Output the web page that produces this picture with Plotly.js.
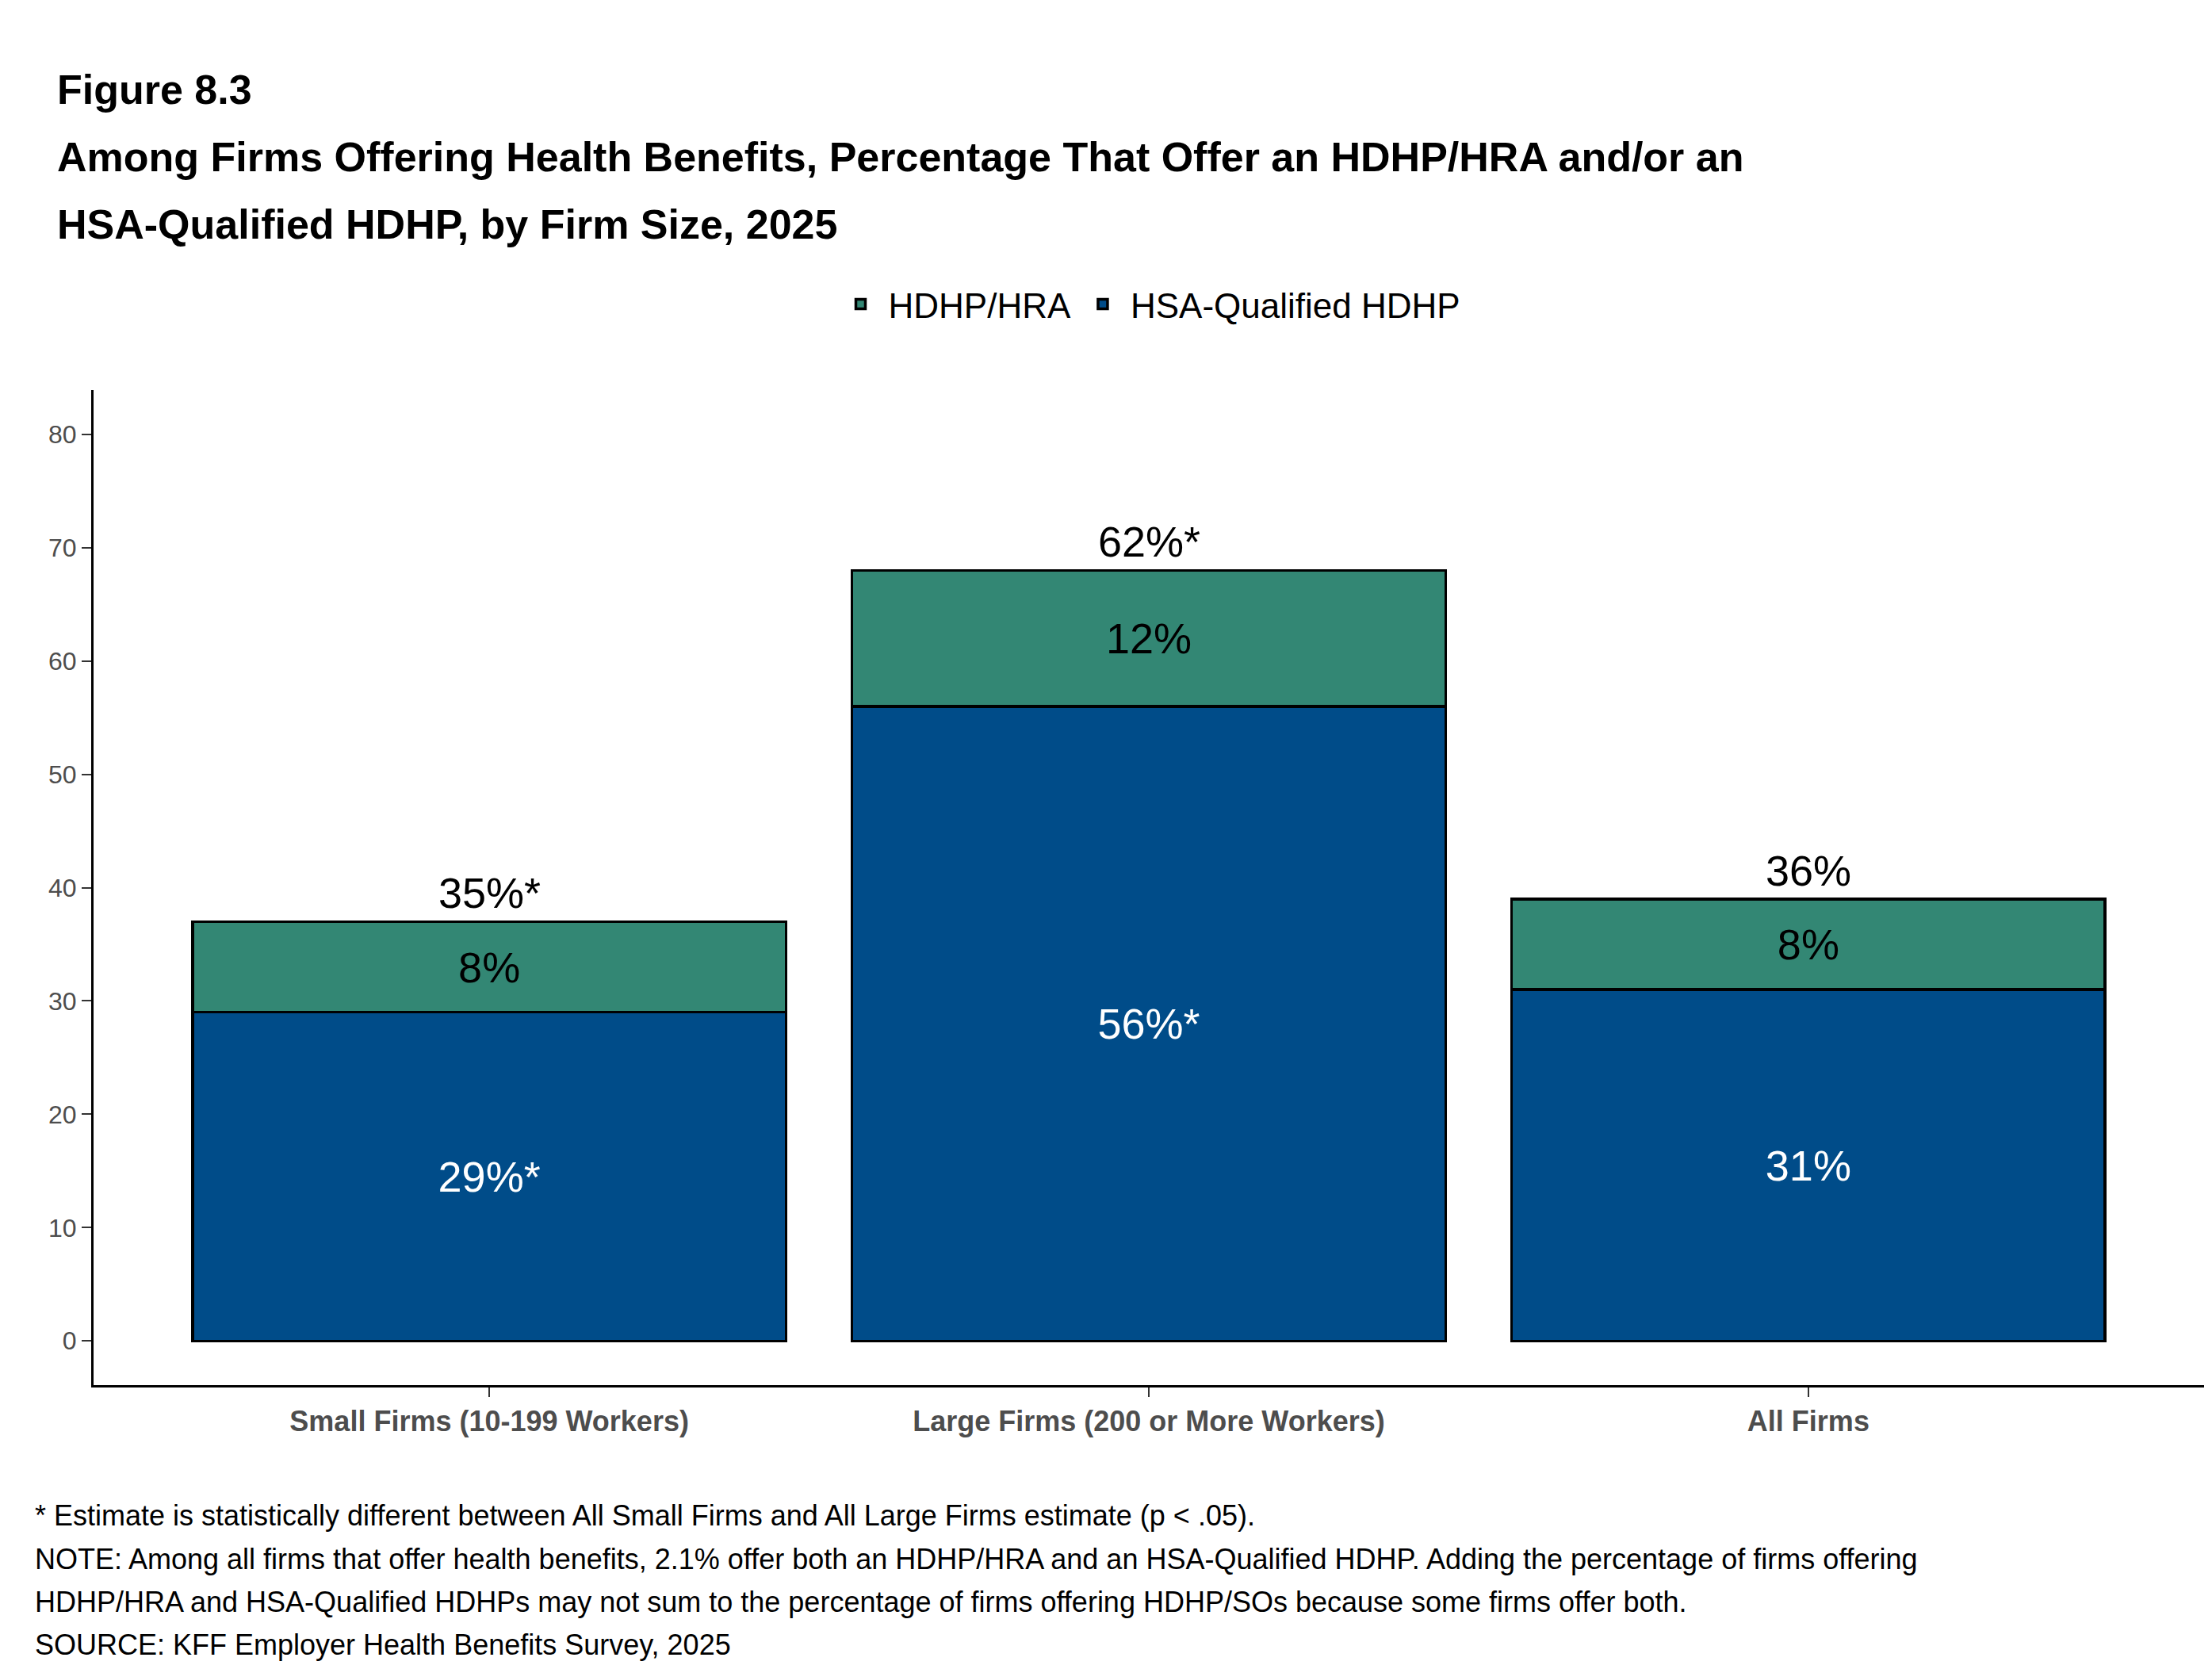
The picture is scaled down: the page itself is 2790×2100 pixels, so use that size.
<!DOCTYPE html>
<html>
<head>
<meta charset="utf-8">
<script src="https://cdn.plot.ly/plotly-3.0.1.min.js"></script>
<style>body{margin:0;background:#fff}#chart{width:2790px;height:2100px}</style>
</head>
<body>
<div id="chart"></div>
<script>
var categories = ['Small Firms (10-199 Workers)', 'Large Firms (200 or More Workers)', 'All Firms'];
var hsaValues = [29, 56, 31];
var hsaLabels = ['29%*', '56%*', '31%'];
var hraValues = [8, 12, 8];
var hraLabels = ['8%', '12%', '8%'];
var totalLabels = ['35%*', '62%*', '36%'];

var W = 2790, H = 2100;
var mL = 118, mR = 10, mT = 492, mB = 353;
function py(pxY) { return (H - mB - pxY) / (H - mT - mB); }
function px(pxX) { return (pxX - mL) / (W - mL - mR); }

var font = 'Liberation Sans, Arial, sans-serif';

var traces = [
  {
    type: 'bar', name: 'HSA-Qualified HDHP', x: categories, y: hsaValues,
    text: hsaLabels, textposition: 'inside', insidetextanchor: 'middle',
    textfont: {family: font, size: 54, color: '#ffffff'},
    marker: {color: '#004c89', line: {color: '#000', width: 3.5}},
    width: 0.9, hoverinfo: 'none'
  },
  {
    type: 'bar', name: 'HDHP/HRA', x: categories, y: hraValues,
    text: hraLabels, textposition: 'inside', insidetextanchor: 'middle',
    textfont: {family: font, size: 54, color: '#000000'},
    marker: {color: '#338774', line: {color: '#000', width: 3.5}},
    width: 0.9, hoverinfo: 'none'
  }
];

var annotations = [];
for (var i = 0; i < categories.length; i++) {
  annotations.push({
    x: categories[i], y: hsaValues[i] + hraValues[i], xref: 'x', yref: 'y',
    text: totalLabels[i], showarrow: false, yanchor: 'bottom', yshift: 4,
    font: {family: font, size: 54, color: '#000'}
  });
}
var titleLines = [
  ['Figure 8.3', 113],
  ['Among Firms Offering Health Benefits, Percentage That Offer an HDHP/HRA and/or an', 198],
  ['HSA-Qualified HDHP, by Firm Size, 2025', 283]
];
titleLines.forEach(function (t) {
  annotations.push({
    x: px(70), y: py(t[1]), xref: 'paper', yref: 'paper', xanchor: 'left', yanchor: 'middle',
    text: '<b>' + t[0] + '</b>', showarrow: false,
    font: {family: font, size: 52, color: '#000'}
  });
});
var notes = [
  ['* Estimate is statistically different between All Small Firms and All Large Firms estimate (p < .05).', 1911],
  ['NOTE: Among all firms that offer health benefits, 2.1% offer both an HDHP/HRA and an HSA-Qualified HDHP. Adding the percentage of firms offering', 1966],
  ['HDHP/HRA and HSA-Qualified HDHPs may not sum to the percentage of firms offering HDHP/SOs because some firms offer both.', 2020],
  ['SOURCE: KFF Employer Health Benefits Survey, 2025', 2074]
];
notes.forEach(function (t) {
  annotations.push({
    x: px(42), y: py(t[1]), xref: 'paper', yref: 'paper', xanchor: 'left', yanchor: 'middle',
    text: t[0], showarrow: false,
    font: {family: font, size: 36, color: '#000'}
  });
});

var layout = {
  width: W, height: H,
  margin: {l: mL, r: mR, t: mT, b: mB},
  paper_bgcolor: '#fff', plot_bgcolor: '#fff',
  barmode: 'stack',
  showlegend: true,
  legend: {
    orientation: 'h', x: 0.5, xanchor: 'center', y: py(384), yanchor: 'middle',
    font: {family: font, size: 44, color: '#000'}, traceorder: 'reversed',
    itemwidth: 60
  },
  xaxis: {
    range: [-0.6, 2.6], showgrid: false, showline: true, linecolor: '#000', linewidth: 3,
    ticks: 'outside', ticklen: 12, tickwidth: 2, tickcolor: '#333',
    tickfont: {family: font, size: 36, color: '#4d4d4d', weight: 'bold'}
  },
  yaxis: {
    range: [-3.9, 83.9], showgrid: false, showline: true, linecolor: '#000', linewidth: 3,
    zeroline: false, tickvals: [0, 10, 20, 30, 40, 50, 60, 70, 80], ticksuffix: '%',
    ticks: 'outside', ticklen: 12, tickwidth: 2, tickcolor: '#333',
    tickfont: {family: font, size: 32, color: '#4d4d4d'}
  },
  annotations: annotations,
  uniformtext: {mode: false}
};

Plotly.newPlot('chart', traces, layout, {staticPlot: true});
</script>
</body>
</html>
